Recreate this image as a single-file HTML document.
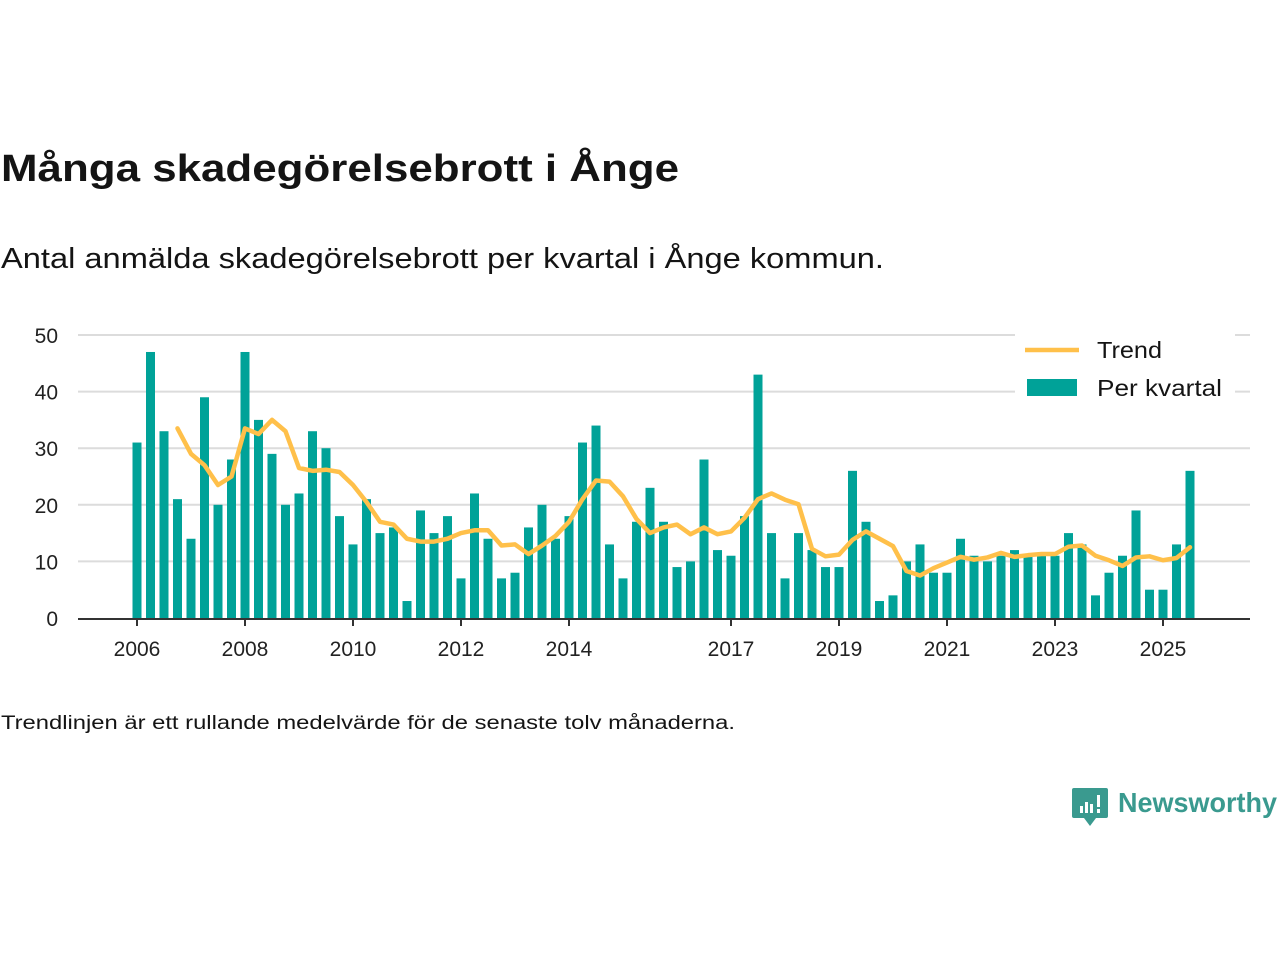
<!DOCTYPE html>
<html><head><meta charset="utf-8">
<style>
html,body{margin:0;padding:0;background:#fff;width:1280px;height:960px;overflow:hidden}
svg{display:block}
text{font-family:"Liberation Sans","DejaVu Sans",sans-serif}
</style></head>
<body>
<svg id="chart" width="1280" height="960" viewBox="0 0 1280 960">
<text x="1" y="181" font-size="38" font-weight="bold" fill="#141414" textLength="678" lengthAdjust="spacingAndGlyphs">Många skadegörelsebrott i Ånge</text>
<text x="1" y="268" font-size="29" fill="#141414" textLength="883" lengthAdjust="spacingAndGlyphs">Antal anmälda skadegörelsebrott per kvartal i Ånge kommun.</text>
<g id="grid"></g>
<g id="yaxis"></g>
<g id="bars"></g>
<g id="trend"></g>
<g id="xaxis"></g>
<g>
<rect x="1015" y="333" width="220" height="68" fill="#fff"/>
<line x1="1025" y1="350" x2="1079" y2="350" stroke="#ffc04a" stroke-width="4.5"/>
<text x="1097" y="358" font-size="23" fill="#141414" textLength="65" lengthAdjust="spacingAndGlyphs">Trend</text>
<rect x="1027" y="379" width="50" height="17" fill="#00a298"/>
<text x="1097" y="396" font-size="23" fill="#141414" textLength="125" lengthAdjust="spacingAndGlyphs">Per kvartal</text>
</g>
<text x="1" y="729" font-size="19" fill="#141414" textLength="734" lengthAdjust="spacingAndGlyphs">Trendlinjen är ett rullande medelvärde för de senaste tolv månaderna.</text>
<g>
<path d="M1074 788 h32 a2 2 0 0 1 2 2 v26 a2 2 0 0 1 -2 2 h-10 l-6 8 l-6 -8 h-10 a2 2 0 0 1 -2 -2 v-26 a2 2 0 0 1 2 -2z" fill="#3a9a8f"/>
<rect x="1080" y="806" width="3" height="7" fill="#fff"/><rect x="1085" y="802" width="3" height="11" fill="#fff"/><rect x="1090" y="804" width="3" height="9" fill="#fff"/><rect x="1097" y="795" width="3" height="12" fill="#fff"/><rect x="1097" y="809" width="3" height="4" fill="#fff"/>
<text x="1118" y="812" font-size="28" font-weight="bold" fill="#3a9a8f" textLength="159" lengthAdjust="spacingAndGlyphs">Newsworthy</text>
</g>
</svg>
<script>
const barValues=[31,47,33,21, 14,39,20,28, 47,35,29,20, 22,33,30,18, 13,21,15,16, 3,19,15,18, 7,22,14,7, 8,16,20,14, 18,31,34,13, 7,17,23,17, 9,10,28,12, 11,18,43,15, 7,15,12,9, 9,26,17,3, 4,10,13,8, 8,14,11,10, 11,12,11,11, 11,15,13,4, 8,11,19,5, 5,13,26];
const trendValues=[33.5,29,27,23.5,25,33.5,32.5,35,33,26.5,26,26.2,25.8,23.5,20.5,17,16.5,14,13.5,13.5,14,15,15.5,15.5,12.8,13,11.3,12.8,14.5,17,21,24.3,24.1,21.5,17.5,15,16,16.5,14.8,16,14.8,15.3,17.7,21,22,20.9,20.1,12.2,10.9,11.2,13.8,15.3,14,12.7,8.3,7.5,8.8,9.8,10.8,10.3,10.7,11.5,10.8,11.1,11.3,11.3,12.6,12.8,11,10.2,9.2,10.7,10.9,10.2,10.6,12.5];
const trendStart=3;
const yTicks=[0,10,20,30,40,50];
const xTickYears=[2006,2008,2010,2012,2014,2017,2019,2021,2023,2025];
const firstYear=2006;

const NS='http://www.w3.org/2000/svg';
const x0=137, qw=13.5, yBase=618, yPer=5.66, barW=9;
function xQ(i){return x0+i*qw;}
function yV(v){return yBase-v*yPer;}
function mk(tag,attrs,parent){const e=document.createElementNS(NS,tag);for(const k in attrs)e.setAttribute(k,attrs[k]);parent.appendChild(e);return e;}
const grid=document.getElementById('grid'),yaxis=document.getElementById('yaxis'),bars=document.getElementById('bars'),trend=document.getElementById('trend'),xaxis=document.getElementById('xaxis');
yTicks.forEach(t=>{
 if(t>0){const l=mk('line',{x1:78,x2:1250,y1:yV(t),y2:yV(t),stroke:'#dcdcdc','stroke-width':2},grid);
 
 }
 const tx=mk('text',{x:58,y:yV(t)+8,'font-size':21,fill:'#222','text-anchor':'end'},yaxis);
 tx.textContent=t;
 
 
});
barValues.forEach((v,i)=>{
 const r=mk('rect',{x:xQ(i)-barW/2,y:yV(v),width:barW,height:v*yPer,fill:'#00a298'},bars);
 
 
});
const pts=trendValues.map((v,i)=>xQ(i+trendStart)+','+yV(v)).join(' ');
const pl=mk('polyline',{points:pts,fill:'none',stroke:'#ffc04a','stroke-width':4.5,'stroke-linejoin':'round','stroke-linecap':'round'},trend);


const ax=mk('line',{x1:78,x2:1250,y1:yBase+1,y2:yBase+1,stroke:'#333','stroke-width':2},xaxis);


xTickYears.forEach(yr=>{
 const x=xQ((yr-firstYear)*4);
 const tk=mk('line',{x1:x,x2:x,y1:yBase+1,y2:yBase+8,stroke:'#333','stroke-width':2},xaxis);
 
 
 const tx=mk('text',{x:x,y:656,'font-size':21,fill:'#222','text-anchor':'middle'},xaxis);
 tx.textContent=yr;
 
 
});
</script>
</body></html>
